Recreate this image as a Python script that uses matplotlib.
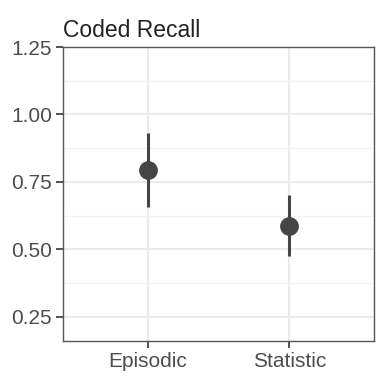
import matplotlib.pyplot as plt
import numpy as np

# data
categories = ["Episodic", "Statistic"]
means = [0.795, 0.587]
lower = [0.657, 0.476]
upper = [0.931, 0.702]

plt.rcParams['font.family'] = ['Liberation Sans', 'DejaVu Sans']

fig = plt.figure(figsize=(3.76, 3.79), dpi=100)
ax = fig.add_axes([63/376, 1 - 341/379, (374-63)/376, (341-47)/379])

x = np.arange(1, len(categories) + 1)
m = np.array(means)
yerr = [m - np.array(lower), np.array(upper) - m]
ax.errorbar(x, m, yerr=yerr, fmt='o', color='#454545', ms=12.5,
            elinewidth=2.2, capsize=0, zorder=3)

ax.set_xlim(0.4, 2.6)
ax.set_ylim(0.161, 1.25)
ax.set_yticks([0.25, 0.5, 0.75, 1.0, 1.25])
ax.set_yticks([0.375, 0.625, 0.875, 1.125], minor=True)
ax.set_xticks(x)
ax.set_xticklabels(categories)

ax.grid(True, which='major', color='#EBEBEB', linewidth=1.5)
ax.grid(True, which='minor', axis='y', color='#F3F3F3', linewidth=1.0)
ax.set_axisbelow(True)
for s in ax.spines.values():
    s.set_color('#555555')
    s.set_linewidth(1.0)
ax.tick_params(which='major', length=5, width=1.2, color='#333333',
               labelsize=15, labelcolor='#4D4D4D', pad=3)
ax.tick_params(which='minor', length=0)

ax.set_title("Coded Recall", loc='left', fontsize=16.5, color='#222222', pad=7)

fig.savefig("out.png", dpi=100)
